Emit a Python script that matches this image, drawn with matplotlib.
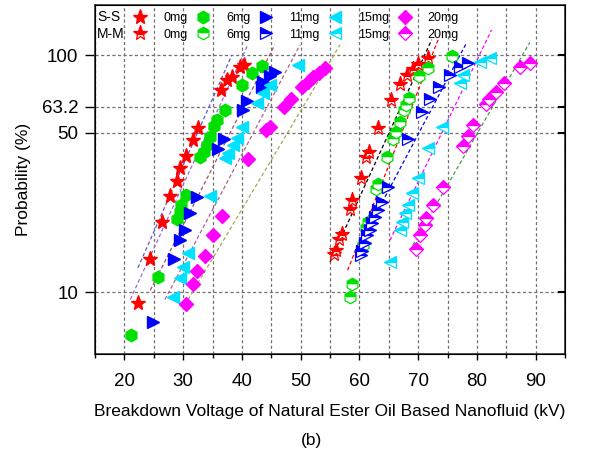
import numpy as np
import matplotlib
matplotlib.use("Agg")
import matplotlib.pyplot as plt
from matplotlib.ticker import MultipleLocator, NullLocator

plt.rcParams['font.family'] = ['Liberation Sans', 'DejaVu Sans']

# ---- S-S electrodes (filled markers): breakdown voltage (kV) / probability (%)
ss0_kv = [22.4, 24.4, 26.4, 27.8, 28.9, 29.5, 30.5, 31.6, 32.6, 36.4, 37.4, 38.3, 39.7, 40.4]
ss0_p = [9.0, 14.0, 20.4, 26.4, 30.7, 34.9, 39.5, 46.5, 52.3, 73.3, 80.2, 82.6, 90.0, 91.6]
ss6_kv = [21.1, 25.7, 29.0, 29.5, 29.6, 30.5, 32.9, 33.6, 34.0, 34.5, 35.3, 35.8, 37.1, 40.0, 41.8, 43.4]
ss6_p = [6.5, 11.7, 20.9, 22.5, 24.1, 26.7, 39.0, 41.3, 44.2, 47.9, 53.1, 56.1, 61.5, 76.7, 85.1, 90.8]
ss11_kv = [24.8, 28.5, 29.5, 30.3, 31.2, 32.4, 36.0, 37.0, 40.2, 40.8, 43.4, 43.6, 44.8, 45.6]
ss11_p = [7.4, 14.0, 16.9, 18.7, 22.2, 26.1, 42.3, 46.8, 61.3, 66.7, 75.5, 79.0, 83.1, 86.3]
ss15_kv = [28.2, 29.4, 30.0, 30.9, 34.6, 37.2, 37.7, 38.5, 39.1, 40.0, 42.5, 43.6, 44.8, 49.6]
ss15_p = [9.5, 11.5, 12.9, 14.9, 26.4, 38.6, 40.6, 44.2, 47.3, 52.5, 65.2, 71.2, 76.7, 91.6]
ss20_kv = [30.5, 31.7, 32.4, 33.7, 35.1, 36.6, 41.1, 44.1, 44.8, 47.2, 48.3, 50.2, 51.3, 52.1, 53.2, 54.1]
ss20_p = [8.9, 10.9, 12.4, 14.4, 17.8, 21.6, 38.2, 51.2, 52.5, 63.2, 67.5, 75.5, 79.0, 82.1, 85.5, 89.0]

# ---- M-M electrodes (half filled markers)
mm0_kv = [55.7, 56.0, 56.6, 57.0, 58.4, 58.7, 60.2, 61.2, 61.7, 63.2, 65.3, 66.9, 68.1, 69.1, 70.0, 71.7]
mm0_p = [14.7, 15.4, 17.1, 18.0, 23.1, 25.4, 31.7, 39.0, 41.3, 52.0, 67.1, 77.6, 83.8, 88.2, 92.4, 97.3]
mm6_kv = [58.4, 58.8, 60.7, 61.2, 61.5, 62.9, 63.2, 64.7, 65.8, 66.2, 66.9, 67.6, 67.9, 68.5, 70.2, 71.7, 75.7]
mm6_p = [9.5, 10.9, 16.1, 19.1, 20.4, 28.3, 29.8, 39.0, 46.8, 50.4, 55.2, 61.3, 64.2, 68.1, 83.1, 89.0, 99.5]
mm11_kv = [60.2, 60.5, 60.9, 61.3, 61.8, 62.2, 62.6, 63.2, 63.8, 64.9, 68.3, 70.6, 72.0, 73.5, 75.4, 77.1, 78.5]
mm11_p = [14.6, 15.1, 16.5, 17.8, 18.7, 20.2, 21.3, 22.9, 24.9, 28.9, 46.8, 60.4, 67.5, 75.3, 83.8, 90.2, 93.5]
mm15_kv = [65.2, 66.9, 67.2, 67.7, 68.3, 68.9, 70.0, 71.7, 74.0, 77.1, 77.7, 80.5, 82.2]
mm15_p = [13.6, 18.7, 20.4, 22.3, 24.1, 27.1, 31.7, 42.7, 52.6, 78.3, 83.8, 94.4, 97.3]
mm20_kv = [69.6, 70.4, 71.1, 71.4, 72.6, 74.3, 77.6, 78.5, 79.4, 81.6, 82.1, 83.2, 84.6, 87.4, 89.0]
mm20_p = [15.5, 17.8, 19.7, 21.1, 24.1, 29.0, 43.7, 48.4, 53.6, 64.7, 67.5, 72.2, 78.3, 89.8, 93.5]

# ---- Weibull fit lines: (start, end) voltage and probability
ss_fit_kv = [[22.3, 38.3], [21.0, 41.0], [24.4, 45.6], [26.9, 49.9], [30.3, 56.7]]
ss_fit_p = [[12.8, 100.0], [9.3, 109.5], [10.2, 109.5], [9.3, 109.5], [8.8, 109.5]]
mm_fit_kv = [[55.0, 72.3], [58.0, 73.4], [59.4, 78.2], [65.2, 82.5], [69.1, 89.0]]
mm_fit_p = [[13.6, 114.5], [12.5, 114.5], [15.0, 111.0], [16.9, 125.0], [16.1, 111.8]]

loadings = ['0mg', '6mg', '11mg', '15mg', '20mg']
marker_colors = ['#ff0000', '#00e000', '#0000ff', '#00e0ff', '#ff00ff']
marker_shapes = ['*', 'h', '>', '<', 'D']
marker_sizes = [11, 9, 9, 9, 7]
ss_fit_colors = ['#5a5ad0', '#9a6ad8', '#a05070', '#b06090', '#a8a850']
mm_fit_colors = ['#000000', '#ff0000', '#0000ff', '#ff00ff', '#40a040']

ticks_y = [10, 50, 63.2, 100]
tick_labels_y = ['10', '50', '63.2', '100']

# probability axis as drawn in the original (Weibull-like, anchored on ticks)
_logs = np.array([-3.0, 1.0, np.log10(50), np.log10(63.2), 2.0, 4.0])
_units = np.array([-913.2, 0.0, 159.6, 185.6, 237.3, 755.3])


def fwd(p):
    p = np.clip(np.asarray(p, dtype=float), 1e-3, 1e4)
    return np.interp(np.log10(p), _logs, _units)


def inv(u):
    return 10 ** np.interp(np.asarray(u, dtype=float), _units, _logs)


ss_kv = [ss0_kv, ss6_kv, ss11_kv, ss15_kv, ss20_kv]
ss_p = [ss0_p, ss6_p, ss11_p, ss15_p, ss20_p]
mm_kv = [mm0_kv, mm6_kv, mm11_kv, mm15_kv, mm20_kv]
mm_p = [mm0_p, mm6_p, mm11_p, mm15_p, mm20_p]

fig = plt.figure(figsize=(6.08, 4.58), dpi=100)
ax = fig.add_axes([95 / 608, 1 - 354 / 458, 470 / 608, 349 / 458])
ax.set_yscale('function', functions=(fwd, inv))

dash = (0, (3, 2))
for i in range(5):
    ax.plot(ss_fit_kv[i], ss_fit_p[i], ls=dash, lw=0.9, color=ss_fit_colors[i], zorder=2)
    ax.plot(mm_fit_kv[i], mm_fit_p[i], ls=dash, lw=0.9, color=mm_fit_colors[i], zorder=2)

handles = []
for i in range(5):
    h1, = ax.plot(ss_kv[i], ss_p[i], ls='none', marker=marker_shapes[i],
                  ms=marker_sizes[i], color=marker_colors[i], mec=marker_colors[i],
                  label=loadings[i], zorder=3)
    h2, = ax.plot(mm_kv[i], mm_p[i], ls='none', marker=marker_shapes[i],
                  ms=marker_sizes[i], color=marker_colors[i], mec=marker_colors[i],
                  fillstyle='top', markerfacecoloralt='white', mew=0.9,
                  label=loadings[i], zorder=3)
    handles += [h1, h2]

ax.set_xlim(15, 95)
ax.set_ylim(5.37, 156)
ax.set_xticks(range(20, 91, 10))
ax.xaxis.set_minor_locator(MultipleLocator(5))
ax.set_yticks(ticks_y)
ax.set_yticklabels(tick_labels_y)
ax.yaxis.set_minor_locator(NullLocator())

ax.set_axisbelow(True)
ax.grid(True, which='both', axis='x', color='#707070', ls=(0, (2.5, 2)), lw=0.9)
ax.grid(True, which='major', axis='y', color='#707070', ls=(0, (2.5, 2)), lw=0.9)

ax.tick_params(axis='x', which='major', direction='out', length=4.5, width=1, pad=9, labelsize=13.5)
ax.tick_params(axis='x', which='minor', direction='out', length=3, width=1)
ax.tick_params(axis='y', which='major', direction='out', length=7, width=1, pad=5, labelsize=13.5)
for s in ax.spines.values():
    s.set_linewidth(1.2)
    s.set_color('#333333')

# inward ticks on the right side
ax2 = ax.twinx()
ax2.set_yscale('function', functions=(fwd, inv))
ax2.set_ylim(ax.get_ylim())
ax2.set_yticks(ticks_y)
ax2.yaxis.set_minor_locator(NullLocator())
ax2.tick_params(axis='y', direction='in', length=5, width=1.5, labelright=False)

ax.set_xlabel('Breakdown Voltage of Natural Ester Oil Based Nanofluid (kV)', fontsize=12.5, labelpad=10)
ax.set_ylabel('Probability (%)', fontsize=12.5, labelpad=8)

ax.legend(handles=handles, labels=[h.get_label() for h in handles], ncol=5,
          loc='upper left', bbox_to_anchor=(0.068, 0.99), frameon=False,
          fontsize=9, handlelength=1.5, handletextpad=1.09, columnspacing=0.5,
          labelspacing=0.35, borderaxespad=0.0, borderpad=0.3)
ax.text(0.005, 0.9665, 'S-S', transform=ax.transAxes, fontsize=10, va='center', ha='left')
ax.text(0.005, 0.9178, 'M-M', transform=ax.transAxes, fontsize=10, va='center', ha='left')

fig.text(311 / 608, 1 - 441 / 458, '(b)', ha='center', va='center', fontsize=12.5)

fig.savefig('out.png', dpi=100)
